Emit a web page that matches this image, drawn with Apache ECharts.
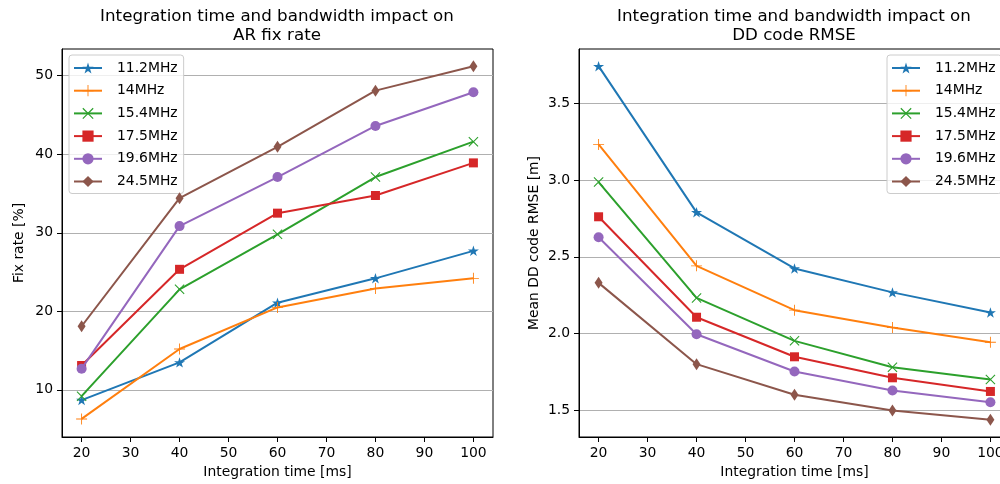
<!DOCTYPE html>
<html>
<head>
<meta charset="utf-8">
<script src="https://cdn.jsdelivr.net/npm/echarts@6/dist/echarts.min.js"></script>
<style>
  html, body { margin: 0; padding: 0; background: #fff; }
  #main { width: 1000px; height: 484px; }
</style>
</head>
<body>
<div id="main"></div>
<script>
// data
var times = [20, 40, 60, 80, 100];
var bandNames = ['11.2MHz', '14MHz', '15.4MHz', '17.5MHz', '19.6MHz', '24.5MHz'];

var fix112 = [8.7, 13.5, 21.1, 24.2, 27.7];
var fix14  = [6.3, 15.2, 20.5, 22.9, 24.2];
var fix154 = [9.2, 22.8, 29.8, 37.1, 41.6];
var fix175 = [13.1, 25.35, 32.5, 34.75, 38.9];
var fix196 = [12.7, 30.85, 37.1, 43.6, 47.9];
var fix245 = [18.1, 34.4, 40.95, 48.1, 51.2];

var rmse112 = [3.743, 2.79, 2.424, 2.268, 2.137];
var rmse14  = [3.233, 2.441, 2.152, 2.039, 1.943];
var rmse154 = [2.987, 2.232, 1.952, 1.78, 1.70];
var rmse175 = [2.761, 2.106, 1.848, 1.711, 1.622];
var rmse196 = [2.628, 1.995, 1.752, 1.628, 1.552];
var rmse245 = [2.33, 1.80, 1.60, 1.498, 1.437];

var xTicks = [20, 30, 40, 50, 60, 70, 80, 90, 100];
var fixTicks = [10, 20, 30, 40, 50];
var rmseTicks = [1.5, 2.0, 2.5, 3.0, 3.5];

var colors = ['#1f77b4', '#ff7f0e', '#2ca02c', '#d62728', '#9467bd', '#8c564b'];
var starPath = 'path://M0,-1 L0.2245,-0.309 L0.951,-0.309 L0.363,0.118 L0.588,0.809 L0,0.382 L-0.588,0.809 L-0.363,0.118 L-0.951,-0.309 L-0.2245,-0.309 Z';
var plusPath = 'path://M-1,-0.08 L-0.08,-0.08 L-0.08,-1 L0.08,-1 L0.08,-0.08 L1,-0.08 L1,0.08 L0.08,0.08 L0.08,1 L-0.08,1 L-0.08,0.08 L-1,0.08 Z';
var xPath = 'path://M0,-0.15 L0.85,-1 L1,-0.85 L0.15,0 L1,0.85 L0.85,1 L0,0.15 L-0.85,1 L-1,0.85 L-0.15,0 L-1,-0.85 L-0.85,-1 Z';
var symbols = [starPath, plusPath, xPath, 'rect', 'circle', 'diamond'];
var sizes = [11, 11, 10, 9, 10, [8, 12]];

var font = 'DejaVu Sans';

function pairs(ys) {
    return times.map(function (t, i) { return [t, ys[i]]; });
}

function makeSeries(idx, list) {
    return list.map(function (ys, i) {
        return {
            name: bandNames[i],
            type: 'line',
            xAxisIndex: idx,
            yAxisIndex: idx,
            data: pairs(ys),
            symbol: symbols[i],
            symbolSize: sizes[i],
            symbolKeepAspect: true,
            color: colors[i],
            lineStyle: { width: 2 },
            itemStyle: { color: colors[i] },
            animation: false,
            z: 3 + i
        };
    });
}

function xAxis(idx) {
    return {
        type: 'value', gridIndex: idx, min: 16, max: 104,
        name: 'Integration time [ms]', nameLocation: 'middle', nameGap: 28,
        nameTextStyle: { color: '#000', fontSize: 13.9, fontFamily: font },
        axisLine: { lineStyle: { color: '#000', width: 1 } },
        axisTick: { length: 5, lineStyle: { color: '#000' }, customValues: xTicks },
        axisLabel: { color: '#000', fontSize: 13.9, fontFamily: font, margin: 9, customValues: xTicks },
        splitLine: { show: false }
    };
}

function yAxis(idx, name, min, max, ticks, fmt) {
    return {
        type: 'value', gridIndex: idx, min: min, max: max,
        name: name, nameLocation: 'middle', nameGap: idx === 0 ? 36 : 38,
        nameTextStyle: { color: '#000', fontSize: 13.9, fontFamily: font },
        axisLine: { show: true, lineStyle: { color: '#000', width: 1 } },
        axisTick: { show: true, length: 5, lineStyle: { color: '#000' }, customValues: ticks },
        axisLabel: { color: '#000', fontSize: 13.9, fontFamily: font, margin: 9, customValues: ticks, formatter: fmt },
        splitLine: { show: true, lineStyle: { color: '#b0b0b0', width: 1 } }
    };
}

function legend(left) {
    return {
        data: bandNames, orient: 'vertical', left: left, top: 55,
        itemWidth: 28, itemHeight: 14, itemGap: 8.7,
        padding: [6, 6, 5, 4],
        backgroundColor: 'rgba(255,255,255,0.8)',
        borderColor: '#cccccc', borderWidth: 1, borderRadius: 3,
        textStyle: { color: '#000', fontSize: 13.9, fontFamily: font, padding: [0, 0, 0, 10] }
    };
}

var myChart = echarts.init(document.getElementById('main'));

var option = {
    backgroundColor: '#fff',
    animation: false,
    title: [{
        text: 'Integration time and bandwidth impact on\nAR fix rate',
        left: 277, top: 7, padding: 0, textAlign: 'center',
        textStyle: { color: '#000', fontSize: 16.7, fontWeight: 'normal', fontFamily: font, lineHeight: 19 }
    }, {
        text: 'Integration time and bandwidth impact on\nDD code RMSE',
        left: 794, top: 7, padding: 0, textAlign: 'center',
        textStyle: { color: '#000', fontSize: 16.7, fontWeight: 'normal', fontFamily: font, lineHeight: 19 }
    }],
    legend: [legend(69), legend(887)],
    grid: [
        { left: 62, top: 49, width: 431, height: 388, show: true, borderColor: '#000', borderWidth: 1,
          backgroundColor: 'transparent', outerBoundsMode: 'none', containLabel: false },
        { left: 579, top: 49, width: 431, height: 388, show: true, borderColor: '#000', borderWidth: 1,
          backgroundColor: 'transparent', outerBoundsMode: 'none', containLabel: false }
    ],
    xAxis: [xAxis(0), xAxis(1)],
    yAxis: [
        yAxis(0, 'Fix rate [%]', 4.0, 53.4, fixTicks, function (v) { return String(v); }),
        yAxis(1, 'Mean DD code RMSE [m]', 1.325, 3.855, rmseTicks, function (v) { return v.toFixed(1); })
    ],
    series: makeSeries(0, [fix112, fix14, fix154, fix175, fix196, fix245])
        .concat(makeSeries(1, [rmse112, rmse14, rmse154, rmse175, rmse196, rmse245]))
};

myChart.setOption(option);
</script>
</body>
</html>
